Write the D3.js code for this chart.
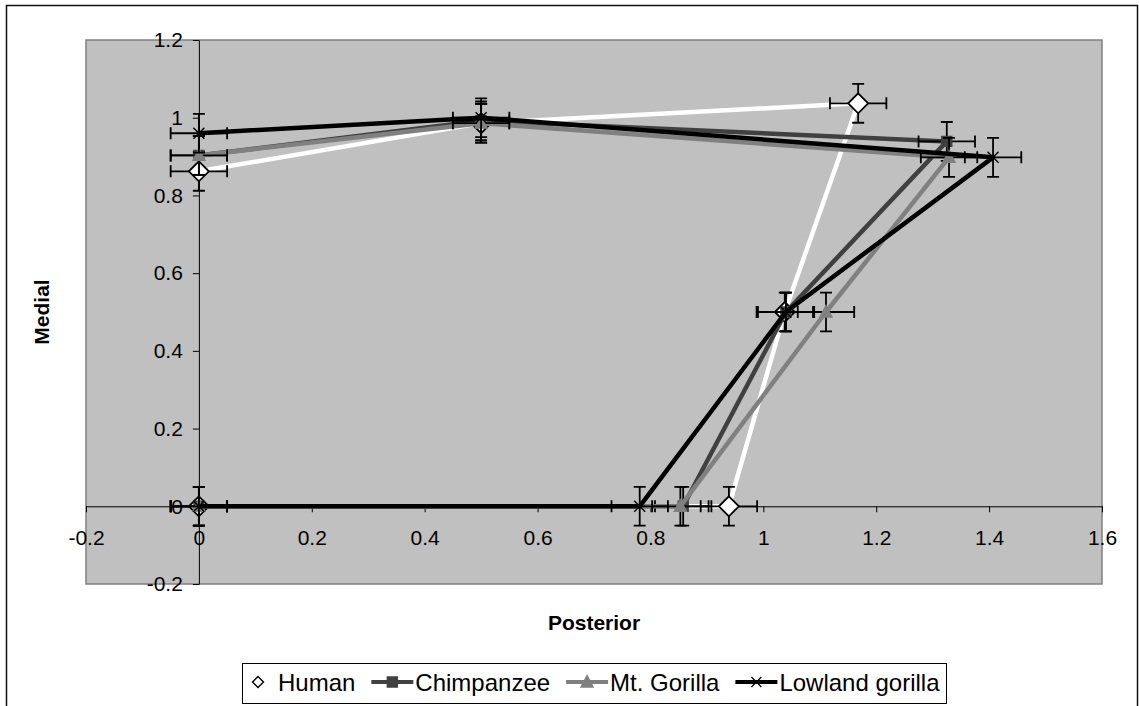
<!DOCTYPE html>
<html>
<head>
<meta charset="utf-8">
<script src="https://cdn.jsdelivr.net/npm/d3@7"></script>
<style>
    body { margin: 0; background: #fff; }
    text { font-family: Arial, "Liberation Sans", sans-serif; }
</style>
</head>
<body>
<div id="chart"></div>
<script>
var seriesNames = ["Human", "Chimpanzee", "Mt. Gorilla", "Lowland gorilla"]

var humanX = [0, 0.5, 1.168, 1.038, 0.939, 0]
var humanY = [0.862, 0.986, 1.037, 0.5, 0, 0]
var chimpX = [0, 0.5, 1.325, 1.04, 0.858, 0]
var chimpY = [0.903, 0.992, 0.939, 0.5, 0, 0]
var mtGorillaX = [0, 0.5, 1.329, 1.111, 0.853, 0]
var mtGorillaY = [0.903, 0.986, 0.898, 0.5, 0, 0]
var lowlandX = [0, 0.5, 1.407, 1.04, 0.781, 0]
var lowlandY = [0.96, 1.0, 0.898, 0.5, 0, 0]

var errorX = 0.05
var errorY = 0.05

var xTicks = [-0.2, 0, 0.2, 0.4, 0.6, 0.8, 1, 1.2, 1.4, 1.6]
var yTicks = [-0.2, 0, 0.2, 0.4, 0.6, 0.8, 1, 1.2]

var width = 1139, height = 706

var svg = d3.select("#chart")
    .append("svg")
        .attr("width", width)
        .attr("height", height)

// chart frame
svg.append("rect")
    .attr("x", 6.5)
    .attr("y", 5.5)
    .attr("width", 1131)
    .attr("height", 720)
    .attr("fill", "#fff")
    .attr("stroke", "#111")
    .attr("stroke-width", 1.5)

var x = d3.scaleLinear().domain([-0.2, 1.6]).range([86, 1102])
var y = d3.scaleLinear().domain([-0.2, 1.2]).range([584, 40])

svg.append("rect")
    .attr("x", x(-0.2))
    .attr("y", y(1.2))
    .attr("width", x(1.6) - x(-0.2))
    .attr("height", y(-0.2) - y(1.2))
    .attr("fill", "#c0c0c0")
    .attr("stroke", "#808080")
    .attr("stroke-width", 1.5)

function styleAxis(g) {
    g.selectAll("text")
        .attr("font-size", 21)
        .attr("fill", "#000")
    g.selectAll("line, path").attr("stroke", "#000")
}

var plainFormat = function(d) { return String(d) }

svg.append("g")
    .attr("transform", "translate(0," + y(0) + ")")
    .call(d3.axisBottom(x).tickValues(xTicks).tickFormat(plainFormat).tickSize(6).tickSizeOuter(0).tickPadding(18))
    .call(styleAxis)

svg.append("g")
    .attr("transform", "translate(" + x(0) + ",0)")
    .call(d3.axisLeft(y).tickValues(yTicks).tickFormat(plainFormat).tickSize(6).tickSizeOuter(0).tickPadding(10))
    .call(styleAxis)

var markerPaths = {
    diamond: "M0,-10L10,0L0,10L-10,0Z",
    square: "M-5,-5H5V5H-5Z",
    triangle: "M0,-6.5L6,5H-6Z",
    cross: "M-5.5,-5.5L5.5,5.5M-5.5,5.5L5.5,-5.5"
}

var series = [
    { name: seriesNames[0], xs: humanX, ys: humanY, line: "#ffffff", marker: "diamond", fill: "#fff", stroke: "#000" },
    { name: seriesNames[1], xs: chimpX, ys: chimpY, line: "#404040", marker: "square", fill: "#404040", stroke: "#404040" },
    { name: seriesNames[2], xs: mtGorillaX, ys: mtGorillaY, line: "#808080", marker: "triangle", fill: "#808080", stroke: "#808080" },
    { name: seriesNames[3], xs: lowlandX, ys: lowlandY, line: "#000000", marker: "cross", fill: "none", stroke: "#000" }
]

function drawMarker(container, s, cx, cy) {
    return container.append("path")
        .attr("d", markerPaths[s.marker])
        .attr("transform", "translate(" + cx + "," + cy + ")")
        .attr("fill", s.fill)
        .attr("stroke", s.stroke)
        .attr("stroke-width", s.marker == "diamond" ? 1.8 : 1.4)
}

var line = d3.line()

series.forEach(function(s) {
    var pts = s.xs.map(function(v, i) { return [x(v), y(s.ys[i])] })
    var g = svg.append("g").classed("series", true)

    g.append("path")
        .attr("d", line(pts))
        .attr("fill", "none")
        .attr("stroke", s.line)
        .attr("stroke-width", 4.5)
        .attr("stroke-linejoin", "round")

    var cap = 6
    s.xs.forEach(function(v, i) {
        var cx = x(v), cy = y(s.ys[i])
        var x0 = x(v - errorX), x1 = x(v + errorX)
        var y0 = y(s.ys[i] + errorY), y1 = y(s.ys[i] - errorY)
        var d = "M" + x0 + "," + cy + "H" + x1 +
            "M" + x0 + "," + (cy - cap) + "V" + (cy + cap) +
            "M" + x1 + "," + (cy - cap) + "V" + (cy + cap) +
            "M" + cx + "," + y0 + "V" + y1 +
            "M" + (cx - cap) + "," + y0 + "H" + (cx + cap) +
            "M" + (cx - cap) + "," + y1 + "H" + (cx + cap)
        g.append("path")
            .attr("d", d)
            .attr("fill", "none")
            .attr("stroke", "#000")
            .attr("stroke-width", 1.8)
    })

    s.xs.forEach(function(v, i) {
        drawMarker(g, s, x(v), y(s.ys[i]))
    })
})

// axis titles
svg.append("text")
    .text("Medial")
    .attr("transform", "translate(49,312) rotate(-90)")
    .attr("text-anchor", "middle")
    .attr("font-size", 21)
    .attr("font-weight", "bold")

svg.append("text")
    .text("Posterior")
    .attr("x", 594)
    .attr("y", 630)
    .attr("text-anchor", "middle")
    .attr("font-size", 21)
    .attr("font-weight", "bold")

// legend: box spans 242..946, items spread to fill it
var legendLeft = 242.5, legendRight = 946.5
var legend = svg.append("g").classed("legend", true)
legend.append("rect")
    .attr("x", legendLeft)
    .attr("y", 663.5)
    .attr("width", legendRight - legendLeft)
    .attr("height", 40)
    .attr("fill", "#fff")
    .attr("stroke", "#000")
    .attr("stroke-width", 1)

var ly = 682
var sampleW = 42
var labels = series.map(function(s) {
    return legend.append("text")
        .text(s.name)
        .attr("y", ly + 8.5)
        .attr("font-size", 24)
})
var textW = labels.map(function(t) { return t.node().getComputedTextLength() })

var humanText = 278
var used = humanText + d3.sum(textW) + 3 * (sampleW + 2)
var gap = Math.max(2, (legendRight - 7 - used) / 3)

var cursor = humanText - 20 - sampleW / 2
series.forEach(function(s, i) {
    if (i > 0) {
        legend.append("line")
            .attr("x1", cursor).attr("x2", cursor + sampleW)
            .attr("y1", ly).attr("y2", ly)
            .attr("stroke", s.line)
            .attr("stroke-width", 4)
    }
    var m = drawMarker(legend, s, cursor + sampleW / 2, ly)
    if (s.marker == "diamond") m.attr("transform", "translate(" + (cursor + sampleW / 2) + "," + ly + ") scale(0.55)").attr("stroke-width", 2.5)
    if (s.marker == "cross") m.attr("transform", "translate(" + (cursor + sampleW / 2) + "," + ly + ") scale(0.9)")
    var tx = i == 0 ? humanText : cursor + sampleW + 2
    labels[i].attr("x", tx)
    cursor = tx + textW[i] + gap
})
</script>
</body>
</html>
